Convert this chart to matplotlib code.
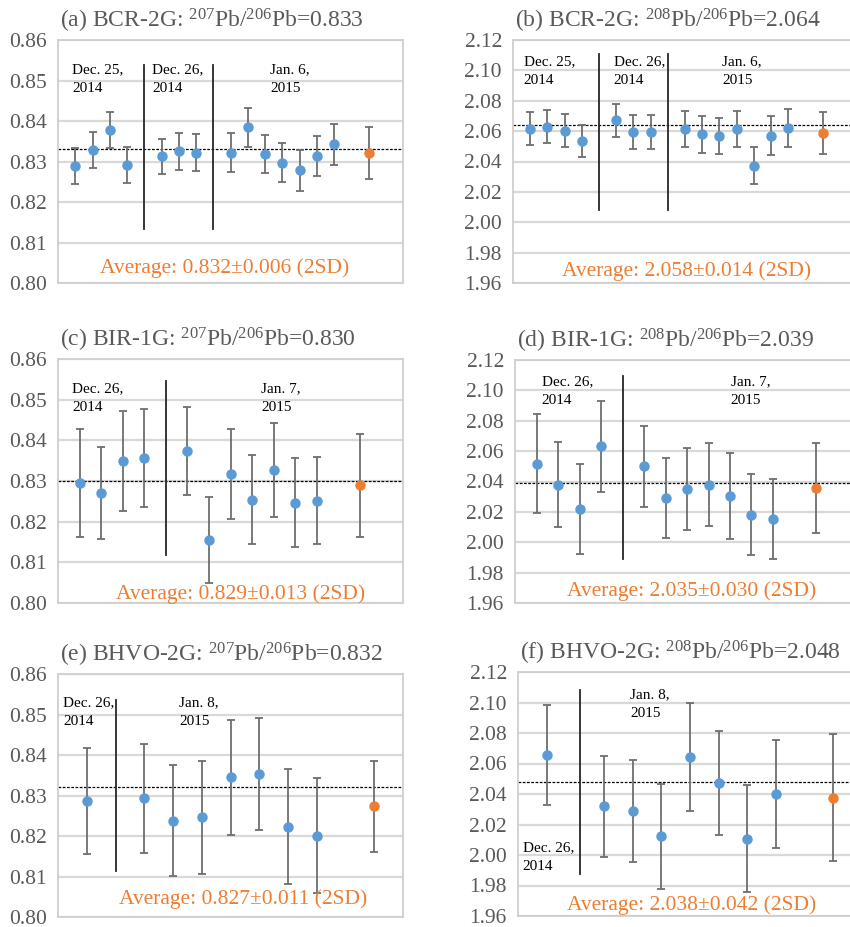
import matplotlib
matplotlib.use("Agg")
import matplotlib.pyplot as plt

plt.rcParams['font.family'] = ['Liberation Serif', 'DejaVu Serif']
plt.rcParams['mathtext.fontset'] = 'custom'
plt.rcParams['mathtext.rm'] = 'Liberation Serif'
plt.rcParams['mathtext.it'] = 'Liberation Serif:italic'
plt.rcParams['mathtext.bf'] = 'Liberation Serif:bold'

# ---------------- data ----------------
# (a) BCR-2G 207/206
a_x = [1, 2, 3, 4, 6, 7, 8, 10, 11, 12, 13, 14, 15, 16]
a_val = [0.8289, 0.8329, 0.8378, 0.8291, 0.8313, 0.8325, 0.8322,
         0.8322, 0.8384, 0.8318, 0.8297, 0.8278, 0.8314, 0.8342]
a_err = [0.0044, 0.00445, 0.0044, 0.0044, 0.00435, 0.00455, 0.00455,
         0.0048, 0.0049, 0.00475, 0.0048, 0.0050, 0.0050, 0.0050]
a_avg_x, a_avg, a_avg_err = 18, 0.8321, 0.0063
a_ref = 0.833
a_div = [5, 9]
a_dates = ["Dec. 25,\n2014", "Dec. 26,\n2014", "Jan. 6,\n2015"]

# (b) BCR-2G 208/206
b_x = [1, 2, 3, 4, 6, 7, 8, 10, 11, 12, 13, 14, 15, 16]
b_val = [2.0615, 2.0630, 2.0604, 2.0534, 2.0670, 2.0595, 2.0593,
         2.0613, 2.0578, 2.0569, 2.0615, 2.0372, 2.0571, 2.0621]
b_err = [0.0109, 0.0111, 0.0111, 0.0107, 0.0107, 0.0112, 0.0112,
         0.0119, 0.0122, 0.0120, 0.0119, 0.0123, 0.0126, 0.0124]
b_avg_x, b_avg, b_avg_err = 18, 2.0586, 0.0139
b_ref = 2.064
b_div = [5, 9]
b_dates = ["Dec. 25,\n2014", "Dec. 26,\n2014", "Jan. 6,\n2015"]

# (c) BIR-1G 207/206
c_x = [1, 2, 3, 4, 6, 7, 8, 9, 10, 11, 12]
c_val = [0.8296, 0.8270, 0.8349, 0.8356, 0.8373, 0.8155, 0.8317,
         0.8254, 0.8326, 0.8247, 0.8252]
c_err = [0.0133, 0.0113, 0.01235, 0.0120, 0.01085, 0.01055, 0.0110,
         0.0109, 0.01155, 0.0109, 0.0108]
c_avg_x, c_avg, c_avg_err = 14, 0.8290, 0.01265
c_ref = 0.830
c_div = [5]
c_dates = ["Dec. 26,\n2014", "Jan. 7,\n2015"]

# (d) BIR-1G 208/206
d_x = [1, 2, 3, 4, 6, 7, 8, 9, 10, 11, 12]
d_val = [2.0516, 2.0378, 2.0218, 2.0632, 2.0499, 2.0293, 2.0352,
         2.0380, 2.0304, 2.0181, 2.0155]
d_err = [0.0326, 0.0280, 0.0297, 0.0298, 0.0268, 0.0264, 0.0269,
         0.0272, 0.0283, 0.0267, 0.0263]
d_avg_x, d_avg, d_avg_err = 14, 2.0356, 0.0298
d_ref = 2.039
d_div = [5]
d_dates = ["Dec. 26,\n2014", "Jan. 7,\n2015"]

# (e) BHVO-2G 207/206
e_x = [1, 3, 4, 5, 6, 7, 8, 9]
e_val = [0.8287, 0.8293, 0.8238, 0.8246, 0.8345, 0.8353, 0.8223, 0.8201]
e_err = [0.01315, 0.0135, 0.01365, 0.01395, 0.01425, 0.0139, 0.0142, 0.01415]
e_avg_x, e_avg, e_avg_err = 11, 0.8273, 0.01115
e_ref = 0.832
e_div = [2]
e_dates = ["Dec. 26,\n2014", "Jan. 8,\n2015"]

# (f) BHVO-2G 208/206
f_x = [1, 3, 4, 5, 6, 7, 8, 9]
f_val = [2.0655, 2.0320, 2.0289, 2.0123, 2.0642, 2.0471, 2.0108, 2.0399]
f_err = [0.0327, 0.0330, 0.0336, 0.0344, 0.0353, 0.0342, 0.0348, 0.0353]
f_avg_x, f_avg, f_avg_err = 11, 2.0377, 0.0417
f_ref = 2.048
f_div = [2.15]
f_dates = ["Jan. 8,\n2015", "Dec. 26,\n2014"]

titles = [r"(a) BCR-2G: $^{207}$Pb/$^{206}$Pb=0.833",
          r"(b) BCR-2G: $^{208}$Pb/$^{206}$Pb=2.064",
          r"(c) BIR-1G: $^{207}$Pb/$^{206}$Pb=0.830",
          r"(d) BIR-1G: $^{208}$Pb/$^{206}$Pb=2.039",
          r"(e) BHVO-2G: $^{207}$Pb/$^{206}$Pb=0.832",
          r"(f) BHVO-2G: $^{208}$Pb/$^{206}$Pb=2.048"]
avg_texts = ["Average: 0.832\u00b10.006 (2SD)",
             "Average: 2.058\u00b10.014 (2SD)",
             "Average: 0.829\u00b10.013 (2SD)",
             "Average: 2.035\u00b10.030 (2SD)",
             "Average: 0.827\u00b10.011 (2SD)",
             "Average: 2.038\u00b10.042 (2SD)"]
yticks_207 = [0.80, 0.81, 0.82, 0.83, 0.84, 0.85, 0.86]
yticks_208 = [1.96, 1.98, 2.00, 2.02, 2.04, 2.06, 2.08, 2.10, 2.12]

# ---------------- styling / layout ----------------
W, H = 850, 927
fig = plt.figure(figsize=(W / 100, H / 100), dpi=100)

BLUE = '#5B9BD5'
ORANGE = '#ED7D31'
GRAY_TXT = '#595959'
ERR = '#6E6E6E'
GRID = '#D9D9D9'

# axes boxes in pixels: left, right, top, bottom
boxes = [(58, 403, 40, 283), (513, 857, 40, 283),
         (58, 403, 359, 603), (515, 859, 360, 603),
         (58, 403, 674, 917), (518, 862, 672, 916)]

panels = [
    (a_x, a_val, a_err, a_avg_x, a_avg, a_avg_err, a_ref, a_div, a_dates, 20, yticks_207,
     [(0.83, 0.8542), (5.47, 0.8542), (12.3, 0.8542)], (9.67, 0.8037), (0.8538, 0.8133)),
    (b_x, b_val, b_err, b_avg_x, b_avg, b_avg_err, b_ref, b_div, b_dates, 20, yticks_208,
     [(0.62, 2.110), (5.85, 2.110), (12.17, 2.110)], (10.08, 1.968), (2.111, 2.008)),
    (c_x, c_val, c_err, c_avg_x, c_avg, c_avg_err, c_ref, c_div, c_dates, 16, yticks_207,
     [(0.67, 0.8542), (9.41, 0.8542)], (8.48, 0.8023), (0.8547, 0.8118)),
    (d_x, d_val, d_err, d_avg_x, d_avg, d_avg_err, d_ref, d_div, d_dates, 16, yticks_208,
     [(1.24, 2.1097), (10.03, 2.1097)], (8.2, 1.968), (2.1097, 1.9889)),
    (e_x, e_val, e_err, e_avg_x, e_avg, e_avg_err, e_ref, e_div, e_dates, 12, yticks_207,
     [(0.17, 0.8544), (4.21, 0.8544)], (6.44, 0.8043), (0.8536, 0.8113)),
    (f_x, f_val, f_err, f_avg_x, f_avg, f_avg_err, f_ref, f_div, f_dates, 12, yticks_208,
     [(3.91, 2.1095), (0.16, 2.0088)], (6.06, 1.967), (2.1084, 1.9874)),
]

for i, (box, p) in enumerate(zip(boxes, panels)):
    (xs, vals, errs, ax_avg_x, avg, avg_err, ref, divs, dates, xmax, yt,
     date_pos, avg_pos, div_span) = p
    l, r, t, b = box
    ax = fig.add_axes([l / W, 1 - b / H, (r - l) / W, (b - t) / H])
    ax.set_xlim(0, xmax)
    ax.set_ylim(yt[0], yt[-1])
    ax.set_yticks(yt)
    ax.set_yticklabels(["%.2f" % v for v in yt])
    ax.set_xticks([])
    ax.tick_params(axis='y', length=0, pad=8, labelsize=15.5, labelcolor=GRAY_TXT)
    for s in ax.spines.values():
        s.set_color('#CFCFCF')
        s.set_linewidth(1.3)
    ax.grid(axis='y', color=GRID, linewidth=1.6, zorder=0)
    ax.set_axisbelow(True)

    ax.axhline(ref, color='black', linestyle=(0, (2.2, 1.2)), linewidth=0.9, zorder=2)
    for dx in divs:
        ax.plot([dx, dx], [div_span[1], div_span[0]], color='#262626', linewidth=1.3, zorder=2)

    ax.errorbar(xs, vals, yerr=errs, fmt='o', color=BLUE, markersize=6.5,
                mec=BLUE, ecolor=ERR, elinewidth=1.3, capsize=2.6, capthick=1.3, zorder=3)
    ax.errorbar([ax_avg_x], [avg], yerr=[avg_err], fmt='o', color=ORANGE, markersize=6.5,
                mec=ORANGE, ecolor=ERR, elinewidth=1.3, capsize=2.6, capthick=1.3, zorder=3)

    for txt, (tx, ty) in zip(dates, date_pos):
        ax.text(tx, ty, txt, ha='left', va='top', fontsize=11, color='black',
                linespacing=1.55, zorder=4)
    ax.text(avg_pos[0], avg_pos[1], avg_texts[i], ha='center', va='center',
            fontsize=15.5, color=ORANGE, zorder=4)

    ax.text(0.005, 1 + 12.5 / (b - t), titles[i], transform=ax.transAxes,
            ha='left', va='baseline', fontsize=17, color=GRAY_TXT)

fig.savefig("out.png", dpi=100)
